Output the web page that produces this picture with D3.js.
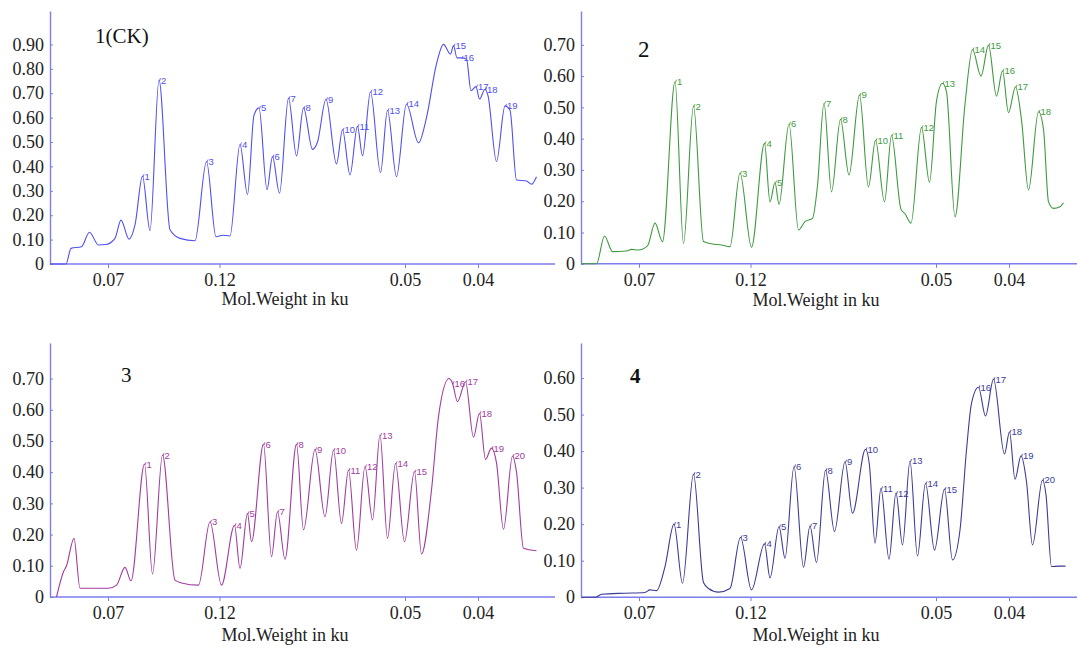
<!DOCTYPE html>
<html>
<head>
<meta charset="utf-8">
<script src="https://cdnjs.cloudflare.com/ajax/libs/d3/7.8.5/d3.min.js"></script>
<style>
  body { margin: 0; background: #fff; }
  svg { display: block; }
</style>
</head>
<body>
<div id="chart"></div>
<script>
// scan position along the lane (mm) and the odd molecular weight labels of the original
const tickPos = [11.6, 33.9, 71, 85.6];
const tickLabels = ["0.07", "0.12", "0.05", "0.04"];

const yTicks1 = [0, 0.1, 0.2, 0.3, 0.4, 0.5, 0.6, 0.7, 0.8, 0.9];
const yTicks2 = [0, 0.1, 0.2, 0.3, 0.4, 0.5, 0.6, 0.7];
const yTicks3 = [0, 0.1, 0.2, 0.3, 0.4, 0.5, 0.6, 0.7];
const yTicks4 = [0, 0.1, 0.2, 0.3, 0.4, 0.5, 0.6];

// [position, optical density, band number]
const lane1 = [[0,0],[3.2,0],[4.2,0.064],[6.3,0.071],[7.9,0.13],[9.7,0.078],[11.2,0.08],[13,0.105],
  [14.2,0.18],[15.8,0.102],[17,0.16],[18.5,0.36,1],[20,0.137],[21.8,0.754,2],[24,0.14],[26,0.105],
  [29,0.095],[31.3,0.42,3],[33.2,0.112],[34.5,0.118],[36,0.115],[38,0.49,4],[39.5,0.285],[40.8,0.61],
  [41.8,0.64,5],[43.4,0.305],[44.5,0.44,6],[45.9,0.29],[47.7,0.68,7],[49.3,0.443],[50.7,0.64,8],
  [52.5,0.47],[53.5,0.5],[55.2,0.675,9],[57.3,0.41],[58.5,0.55,10],[60,0.365],[61.5,0.565,11],
  [62.5,0.443],[64.1,0.706,12],[66.1,0.374],[67.5,0.63,13],[69.3,0.358],[71.3,0.656,14],[73.7,0.497],
  [75.3,0.6],[77.3,0.82],[78.7,0.9],[80.1,0.86],[80.7,0.895,15],[81.4,0.845],[82.3,0.845,16],[83.3,0.84],
  [84.2,0.71],[85.2,0.727,17],[85.9,0.676],[87,0.716,18],[87.6,0.69],[89.3,0.42],[91,0.648,19],
  [92,0.63],[93.3,0.344],[95.3,0.34],[96.3,0.327],[97.3,0.358]];

const lane2 = [[0,0],[3.1,0],[4.7,0.089],[6.3,0.039],[9.1,0.041],[10.1,0.046],[11.5,0.044],[13.3,0.057],
  [14.8,0.13],[16.3,0.071],[18.8,0.582,1],[20.5,0.065],[22.5,0.504,2],[24.5,0.071],[26.1,0.064],
  [28.1,0.06],[29.8,0.055],[31.8,0.29,3],[34.1,0.053],[36.7,0.385,4],[37.8,0.198],[38.8,0.26,5],
  [39.6,0.19],[41.6,0.447,6],[43.5,0.108],[44.8,0.135],[46.3,0.145],[47.3,0.25],[48.6,0.513,7],
  [50.1,0.23],[51.9,0.462,8],[53.6,0.284],[55.7,0.54,9],[57.5,0.246],[58.9,0.395,10],[60.7,0.198],
  [62.1,0.41,11],[64,0.174],[64.8,0.16],[66,0.13],[68.1,0.436,12],[69.7,0.26],[71.1,0.52],
  [72.3,0.577,13],[73.1,0.55],[74.8,0.15],[76.8,0.51],[78.3,0.685,14],[80,0.6],[81.5,0.699,15],
  [83.1,0.536],[84.3,0.617,16],[85.5,0.483],[86.9,0.566,17],[88.1,0.46],[89.5,0.236],[91.5,0.486,18],
  [92.5,0.43],[93.5,0.198],[94.5,0.177],[95.8,0.182],[96.5,0.195]];

const lane3 = [[1.3,0],[2.7,0.081],[3.3,0.1],[4.8,0.188],[6,0.028],[9,0.028],[11.7,0.028],[13.3,0.038],
  [15,0.095],[16.2,0.052],[18.9,0.426,1],[20.5,0.074],[22.5,0.455,2],[25,0.054],[26.3,0.045],
  [29.7,0.038],[32,0.241,3],[34.3,0.038],[36.9,0.23,4],[38,0.092],[39.5,0.268,5],[40.3,0.177],
  [42.7,0.49,6],[44.3,0.129],[45.5,0.273,7],[47,0.121],[49.3,0.49,8],[50.7,0.215],[53,0.473,9],
  [55,0.257],[56.7,0.471,10],[58.3,0.236],[59.7,0.407,11],[61.3,0.15],[63,0.418,12],[64.5,0.247],
  [66,0.519,13],[67.5,0.188],[69.1,0.428,14],[70.9,0.177],[72.9,0.402,15],[74.3,0.138],[76.3,0.343],
  [77.7,0.578],[79.8,0.7],[80.5,0.685,16],[81.5,0.626],[83.1,0.69,17],[84.7,0.512],[85.9,0.589,18],
  [87.1,0.441],[88.3,0.477,19],[89.3,0.43],[90.7,0.217],[92.5,0.452,20],[93.3,0.4],[94.7,0.156],
  [97.3,0.148]];

const lane4 = [[0.1,0],[2.9,0],[4.1,0.008],[8.8,0.011],[12.8,0.013],[13.8,0.02],[15.1,0.018],
  [16.8,0.084],[18.6,0.2,1],[20.3,0.038],[22.5,0.337,2],[24.5,0.04],[25.5,0.024],[27.5,0.014],
  [29.8,0.024],[31.9,0.164,3],[34.1,0.02],[36.7,0.146,4],[37.8,0.053],[39.6,0.193,5],[40.8,0.107],
  [42.6,0.358,6],[44.5,0.082],[45.8,0.195,7],[47.1,0.095],[48.9,0.348,8],[50.7,0.18],[52.8,0.371,9],
  [54.3,0.23],[56.9,0.405,10],[57.7,0.36],[58.8,0.148],[60,0.298,11],[61.6,0.104],[63,0.285,12],
  [64.3,0.143],[65.8,0.373,13],[67.3,0.113],[68.9,0.312,14],[70.7,0.129],[72.7,0.296,15],[74.3,0.102],
  [75.8,0.184],[77.1,0.403],[78.1,0.531],[79.5,0.575,16],[80.9,0.496],[82.5,0.597,17],[84.7,0.392],
  [85.7,0.453,18],[86.8,0.323],[88,0.387,19],[89.1,0.316],[90.3,0.143],[92.3,0.321,20],[93,0.28],
  [94.1,0.084],[95.5,0.085],[96.9,0.085]];

const axisColor = "#7d7dec";
const serif = "'Liberation Serif', 'Times New Roman', serif";

const panels = [
  {label: "1(CK)", data: lane1, yTicks: yTicks1, color: "#5050ee", left: 50, base: 264, top: 11, yMax: 1.037, lx: 95, ly: 43, size: 21, axisEnd: 555, titleY: 305},
  {label: "2", data: lane2, yTicks: yTicks2, color: "#3f9a3f", left: 581, base: 263.8, top: 11, yMax: 0.808, lx: 638, ly: 57, size: 23, axisEnd: 1077, titleY: 306},
  {label: "3", data: lane3, yTicks: yTicks3, color: "#9e3d9e", left: 50, base: 597, top: 343, yMax: 0.814, lx: 121, ly: 382, size: 21, axisEnd: 555, titleY: 641},
  {label: "4", data: lane4, yTicks: yTicks4, color: "#3c3c96", left: 581, base: 597.2, top: 343, yMax: 0.696, lx: 630, ly: 383, size: 21, bold: true, axisEnd: 1077, titleY: 641}
];

const svg = d3.select("#chart").append("svg")
    .attr("width", 1077)
    .attr("height", 653);

panels.forEach(p => {
    const x = d3.scaleLinear().domain([0, 98]).range([p.left, p.left + 490]);
    const y = d3.scaleLinear().domain([0, p.yMax]).range([p.base, p.top]);
    const g = svg.append("g");

    // baseline runs a bit past the plot, like the scanned figure
    g.append("line")
        .attr("x1", p.left).attr("x2", p.axisEnd)
        .attr("y1", p.base).attr("y2", p.base)
        .attr("stroke", axisColor).attr("stroke-width", 1.4);

    g.append("g")
        .attr("transform", `translate(0,${p.base})`)
        .call(d3.axisBottom(x)
            .tickValues(tickPos)
            .tickFormat(d => tickLabels[tickPos.indexOf(d)])
            .tickSizeInner(4).tickSizeOuter(0).tickPadding(5))
        .call(a => a.select(".domain").remove())
        .call(a => a.selectAll("line").attr("stroke", axisColor))
        .call(a => a.selectAll("text").attr("fill", "#222"))
        .attr("font-family", serif)
        .attr("font-size", 18);

    g.append("g")
        .attr("transform", `translate(${p.left},0)`)
        .call(d3.axisLeft(y)
            .tickValues(p.yTicks)
            .tickFormat(d => d === 0 ? "0" : d.toFixed(2))
            .tickSizeInner(-3).tickSizeOuter(0).tickPadding(6))
        .call(a => a.select(".domain").attr("stroke", axisColor).attr("stroke-width", 1.4))
        .call(a => a.selectAll("line").attr("stroke", axisColor))
        .call(a => a.selectAll("text").attr("fill", "#222"))
        .attr("font-family", serif)
        .attr("font-size", 18);

    g.append("text")
        .attr("x", p.left + 235).attr("y", p.titleY)
        .attr("text-anchor", "middle")
        .attr("font-family", serif).attr("font-size", 18)
        .attr("fill", "#222")
        .text("Mol.Weight in ku");

    g.append("text")
        .attr("x", p.lx).attr("y", p.ly)
        .attr("font-family", serif).attr("font-size", p.size)
        .attr("font-weight", p.bold ? "bold" : "normal")
        .attr("fill", "#111")
        .text(p.label);

    const line = d3.line()
        .x(d => x(d[0]))
        .y(d => y(d[1]))
        .curve(d3.curveMonotoneX);

    g.append("path")
        .datum(p.data)
        .attr("fill", "none")
        .attr("stroke", p.color)
        .attr("stroke-width", 1.1)
        .attr("d", line);

    const peaks = p.data.filter(d => d[2] != null);

    g.selectAll(".pk")
        .data(peaks)
        .enter()
        .append("line")
        .attr("x1", d => x(d[0]) + 0.5).attr("x2", d => x(d[0]) + 1.5)
        .attr("y1", d => y(d[1]) + 1).attr("y2", d => y(d[1]) - 2)
        .attr("stroke", p.color).attr("stroke-width", 0.8);

    g.selectAll(".num")
        .data(peaks)
        .enter()
        .append("text")
        .attr("x", d => x(d[0]) + 2)
        .attr("y", d => y(d[1]) + 3.5)
        .attr("font-family", "'Liberation Sans', Arial, sans-serif")
        .attr("font-size", 9.5)
        .attr("fill", p.color)
        .text(d => d[2]);
});
</script>
</body>
</html>
